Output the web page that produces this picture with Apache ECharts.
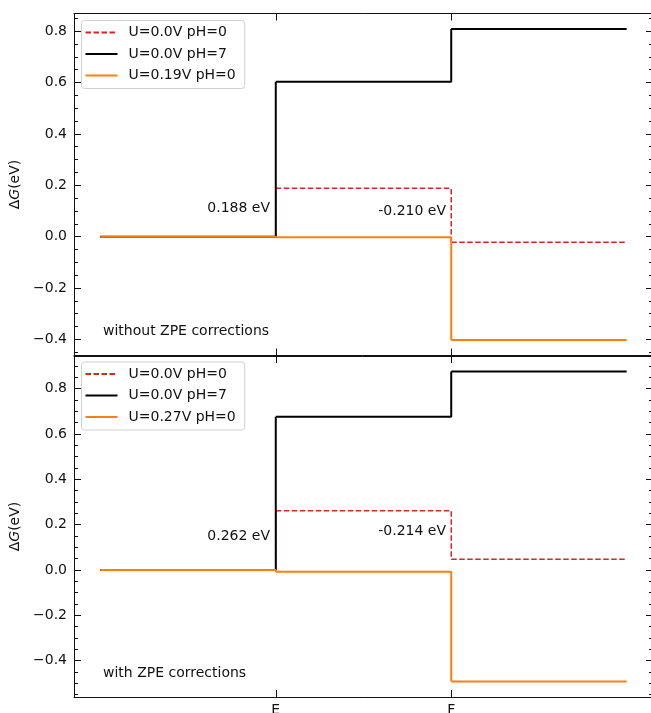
<!DOCTYPE html>
<html>
<head>
<meta charset="utf-8">
<script src="https://cdn.jsdelivr.net/npm/echarts@6/dist/echarts.min.js"></script>
<style>
html, body { margin: 0; padding: 0; background: #fff; }
#main { width: 651px; height: 713px; }
</style>
</head>
<body>
<div id="main"></div>
<script>
// each intermediate sits on [n, n+1]
var stepX = [0, 1, 2];
var xTickPos = [1, 2];
var xTickLabels = ['E', 'F'];
var yTicks = [-0.4, -0.2, 0, 0.2, 0.4, 0.6, 0.8];

// top panel: without ZPE corrections
var topPH0 = [0, 0.188, -0.022];
var topPH7 = [0, 0.603, 0.808];
var topU = [0, -0.002, -0.402];
var topNames = ['U=0.0V pH=0', 'U=0.0V pH=7', 'U=0.19V pH=0'];
var topNotes = ['0.188 eV', '-0.210 eV'];
var topTitle = 'without ZPE corrections';

// bottom panel: with ZPE corrections
var botPH0 = [0, 0.262, 0.048];
var botPH7 = [0, 0.676, 0.876];
var botU = [0, -0.008, -0.492];
var botNames = ['U=0.0V pH=0', 'U=0.0V pH=7', 'U=0.27V pH=0'];
var botNotes = ['0.262 eV', '-0.214 eV'];
var botTitle = 'with ZPE corrections';

var FONT = 'DejaVu Sans';
var INK = '#111';

// horizontal level + vertical drop, then a break so every level starts with a moveTo
// (echarts skips line segments shorter than ~2px, which would tilt a level)
function stepPoints(levels) {
    var pts = [];
    levels.forEach(function (v, i) {
        pts.push([stepX[i], v]);
        pts.push([stepX[i] + 1, v]);
        if (i < levels.length - 1) {
            pts.push([stepX[i] + 1, levels[i + 1]]);
            pts.push([stepX[i] + 1, '-']);
        }
    });
    return pts;
}

// matplotlib-like 5% margins
function yRange(arrs) {
    var all = [].concat.apply([], arrs);
    var lo = Math.min.apply(null, all), hi = Math.max.apply(null, all);
    var m = (hi - lo) * 0.05;
    return [lo - m, hi + m];
}
var xMin = -0.15, xMax = 3.15;

function minorTicks(r) {
    var out = [];
    for (var k = Math.ceil(r[0] / 0.05); k <= Math.floor(r[1] / 0.05); k++) {
        out.push(Math.round(k * 5) / 100);
    }
    return out;
}

function fmtMinus(v) {
    var s = Math.abs(v) < 1e-9 ? '0.0' : v.toFixed(1);
    return s.replace('-', '\u2212');
}

var panelBoxes = [
    { left: 74, right: -2, top: 13.5, height: 342, outerBoundsMode: 'none', containLabel: false },
    { left: 74, right: -2, top: 356, height: 341, outerBoundsMode: 'none', containLabel: false }
];
// grids 0,1 carry the data and major ticks; grids 2,3 (same boxes) only carry minor ticks
var grids = panelBoxes.concat(panelBoxes);

var ranges = [yRange([topPH0, topPH7, topU]), yRange([botPH0, botPH7, botU])];

var xAxes = [];
var yAxes = [];
[0, 1].forEach(function (g) {
    ['bottom', 'top'].forEach(function (pos) {
        xAxes.push({
            type: 'value', gridIndex: g, position: pos, min: xMin, max: xMax,
            axisLine: { show: true, onZero: false, lineStyle: { color: INK, width: 1 } },
            axisTick: { show: true, inside: true, length: 7, customValues: xTickPos, lineStyle: { color: INK } },
            axisLabel: {
                show: g === 1 && pos === 'bottom', customValues: xTickPos, margin: 6,
                fontFamily: FONT, fontSize: 14, color: INK,
                formatter: function (v) { return xTickLabels[xTickPos.indexOf(v)]; }
            },
            splitLine: { show: false }
        });
    });
    var r = ranges[g];
    ['left', 'right'].forEach(function (pos) {
        yAxes.push({
            type: 'value', gridIndex: g, position: pos, min: r[0], max: r[1],
            axisLine: { show: true, onZero: false, lineStyle: { color: INK, width: 1 } },
            axisTick: { show: true, inside: true, length: 7, customValues: yTicks, lineStyle: { color: INK } },
            axisLabel: {
                show: pos === 'left', customValues: yTicks, margin: 7,
                fontFamily: FONT, fontSize: 14, color: INK, formatter: fmtMinus
            },
            splitLine: { show: false },
            name: pos === 'left' ? '{d|\u0394}{g|G}{d|(eV)}' : '',
            nameLocation: 'middle', nameGap: 40,
            nameTextStyle: {
                rich: {
                    d: { fontFamily: FONT, fontSize: 14, color: INK },
                    g: { fontFamily: FONT, fontSize: 14, color: INK, fontStyle: 'italic' }
                }
            }
        });
    });
});
// minor tick grids
[0, 1].forEach(function (g) {
    var r = ranges[g];
    var minors = minorTicks(r);
    xAxes.push({ type: 'value', gridIndex: g + 2, min: xMin, max: xMax, show: false });
    ['left', 'right'].forEach(function (pos) {
        yAxes.push({
            type: 'value', gridIndex: g + 2, position: pos, min: r[0], max: r[1],
            axisLine: { show: false, onZero: false },
            axisTick: { show: true, inside: true, length: 4, customValues: minors, lineStyle: { color: INK } },
            axisLabel: { show: false },
            splitLine: { show: false }
        });
    });
});

function mkSeries(g, names, ph0, ph7, u) {
    var xi = g * 2, yi = g * 2;
    return [
        { name: names[0], type: 'line', xAxisIndex: xi, yAxisIndex: yi, symbol: 'none', data: stepPoints(ph0),
          lineStyle: { color: '#d62728', width: 1.5, type: [5.5, 2.5] }, itemStyle: { color: '#d62728' }, z: 2 },
        { name: names[1], type: 'line', xAxisIndex: xi, yAxisIndex: yi, symbol: 'none', data: stepPoints(ph7),
          lineStyle: { color: '#000', width: 2 }, itemStyle: { color: '#000' }, z: 3 },
        { name: names[2], type: 'line', xAxisIndex: xi, yAxisIndex: yi, symbol: 'none', data: stepPoints(u),
          lineStyle: { color: '#ff7f0e', width: 2 }, itemStyle: { color: '#ff7f0e' }, z: 4 }
    ];
}

function mkLegend(names, top) {
    return {
        data: names, orient: 'vertical', left: 81.5, top: top,
        itemWidth: 32, itemHeight: 14, itemGap: 7.5,
        padding: [5, 9, 6, 3],
        backgroundColor: 'rgba(255,255,255,0.85)',
        borderColor: '#d0d0d0', borderWidth: 1, borderRadius: 3,
        // hide the marker dot, keep only the line sample
        itemStyle: { color: 'rgba(0,0,0,0)', borderColor: 'rgba(0,0,0,0)', borderWidth: 0 },
        textStyle: { fontFamily: FONT, fontSize: 14, color: INK, padding: [0, 0, 0, 6] },
        selectedMode: false
    };
}

function note(text, x, y, align) {
    return {
        type: 'text', z: 100,
        style: { text: text, x: x, y: y, align: align, verticalAlign: 'middle',
                 fontFamily: FONT, fontSize: 14, fill: INK }
    };
}

var chart = echarts.init(document.getElementById('main'), null, { renderer: 'canvas' });
chart.setOption({
    animation: false,
    backgroundColor: '#fff',
    grid: grids,
    xAxis: xAxes,
    yAxis: yAxes,
    legend: [mkLegend(topNames, 20.5), mkLegend(botNames, 362)],
    series: mkSeries(0, topNames, topPH0, topPH7, topU).concat(mkSeries(1, botNames, botPH0, botPH7, botU)),
    graphic: [
        note(topNotes[0], 270, 208.5, 'right'),
        note(topNotes[1], 446, 211, 'right'),
        note(topTitle, 103, 331, 'left'),
        note(botNotes[0], 270, 536, 'right'),
        note(botNotes[1], 446, 531, 'right'),
        note(botTitle, 103, 673, 'left')
    ]
});
</script>
</body>
</html>
